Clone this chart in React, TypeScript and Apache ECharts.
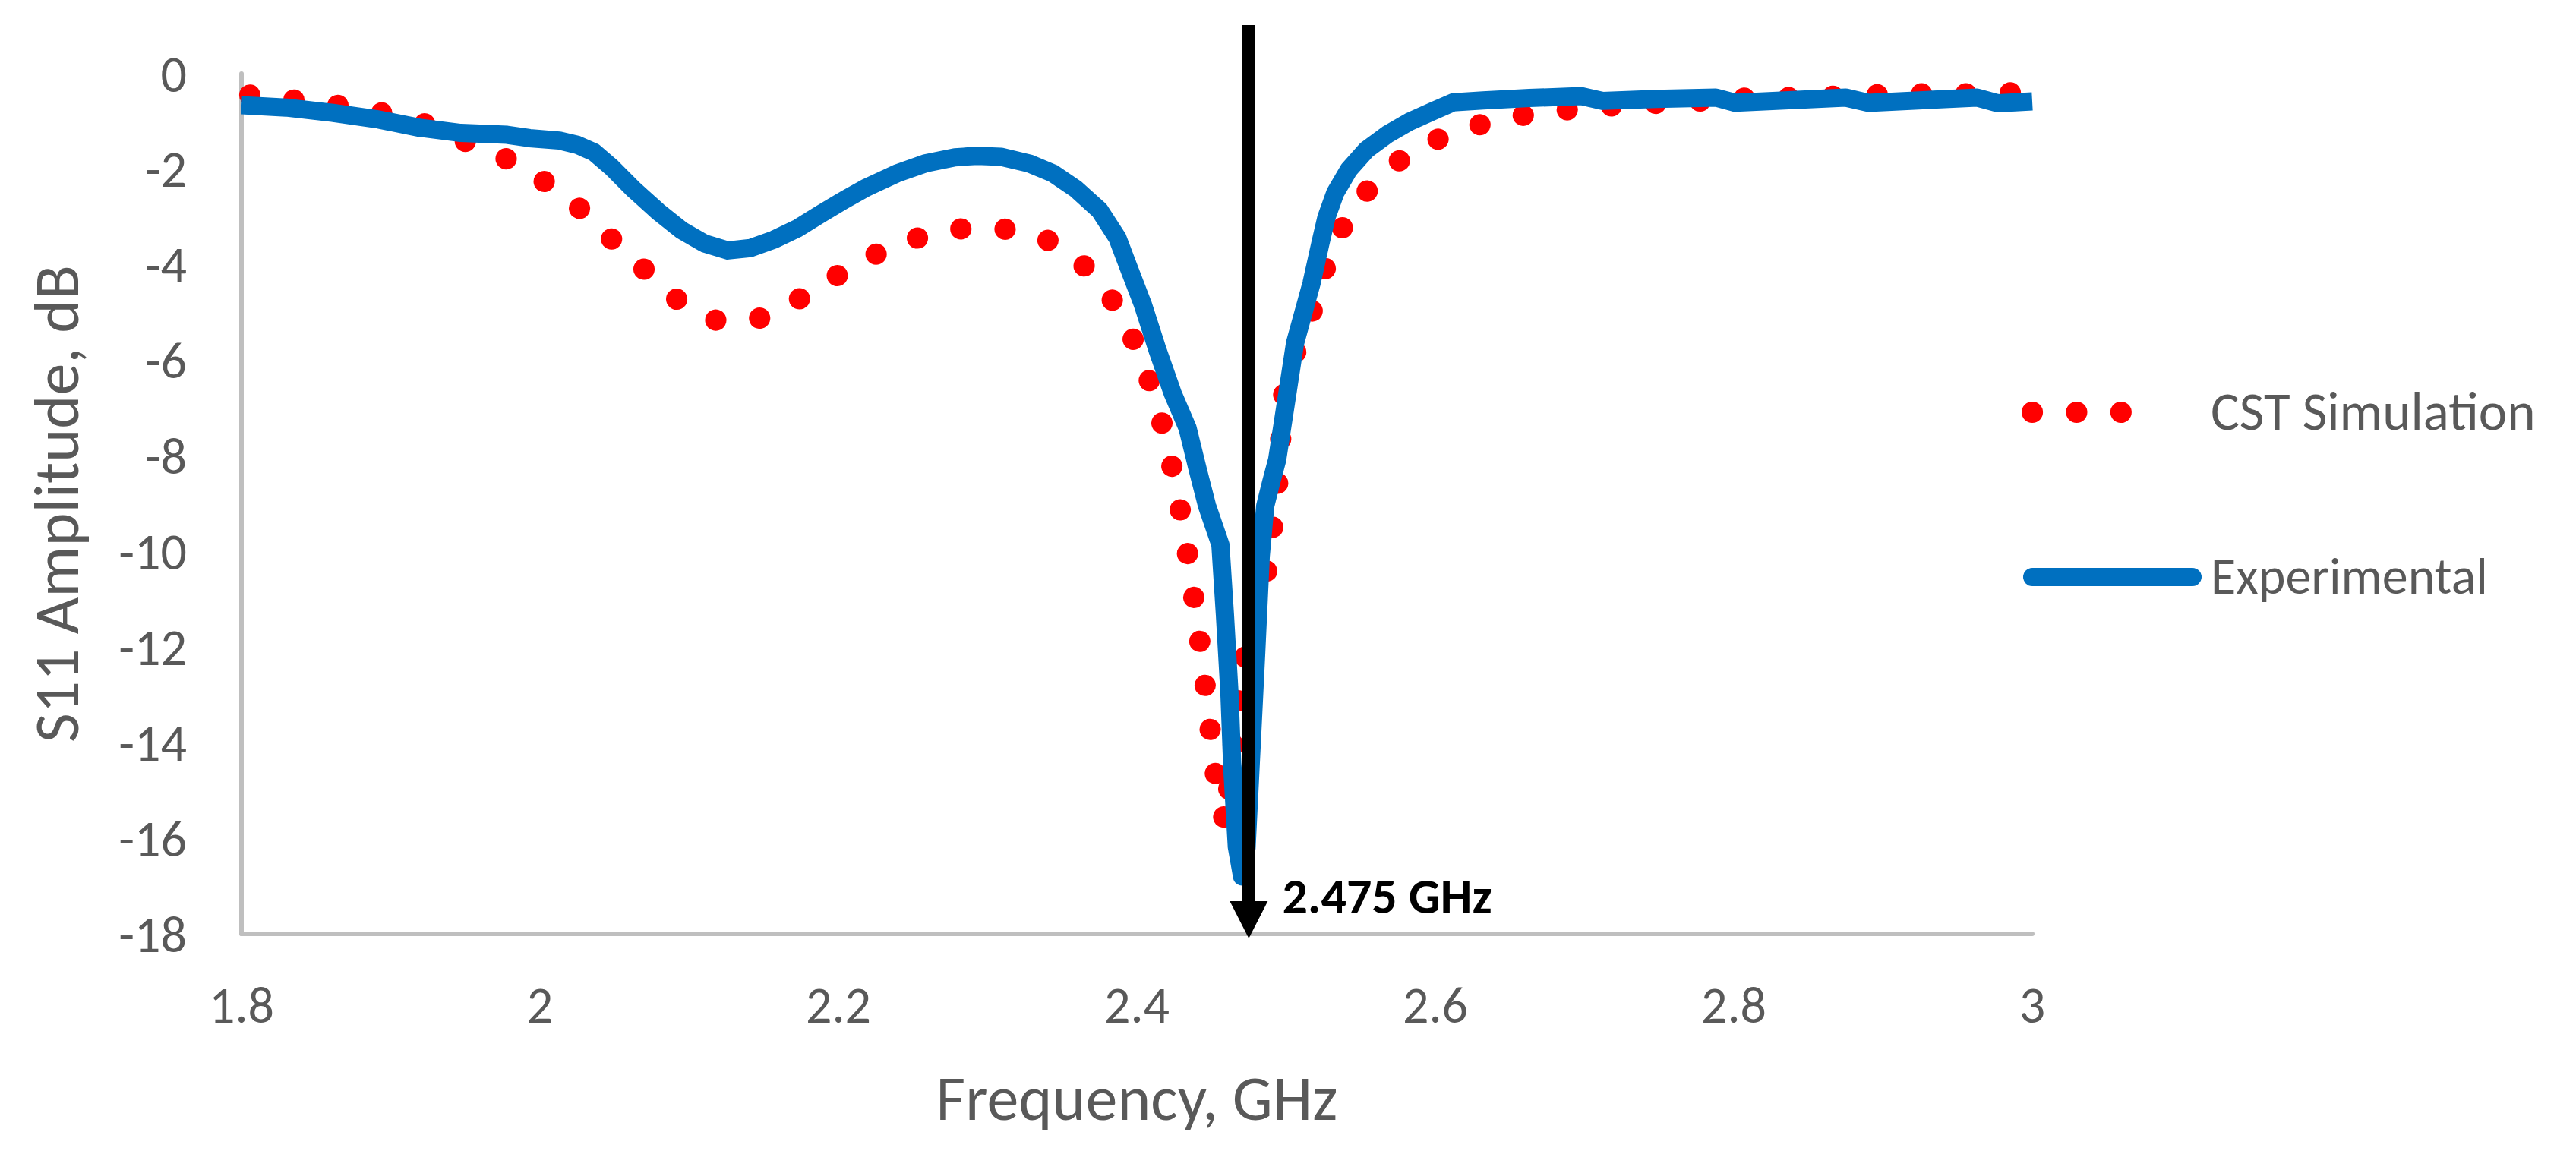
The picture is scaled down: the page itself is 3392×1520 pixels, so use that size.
import React, { useEffect, useRef } from "react";
import * as echarts from "echarts";

// ---- Data ----
const simFreq = [
  1.800, 1.835, 1.864, 1.894, 1.923, 1.951, 1.978, 2.003, 2.027, 2.048,
  2.070, 2.092, 2.118, 2.132, 2.147, 2.174, 2.199, 2.225, 2.253, 2.282,
  2.296, 2.311, 2.340, 2.364, 2.383, 2.397, 2.408, 2.4165, 2.4233, 2.4289,
  2.4338, 2.438, 2.442, 2.4456, 2.449, 2.4524, 2.4578, 2.460, 2.4616, 2.468,
  2.476, 2.488, 2.4914, 2.4947, 2.4965, 2.4985, 2.507, 2.5186, 2.527, 2.5386,
  2.5556, 2.5774, 2.6037, 2.6317, 2.6607, 2.6902, 2.7196, 2.749, 2.779, 2.808,
  2.838, 2.868, 2.898, 2.9275, 2.957, 2.987, 3.000,
];
const simS11 = [
  -0.43, -0.55, -0.66, -0.82, -1.05, -1.43, -1.79, -2.26, -2.83, -3.46,
  -4.10, -4.73, -5.16, -5.20, -5.12, -4.71, -4.23, -3.78, -3.44, -3.25,
  -3.22, -3.25, -3.48, -4.00, -4.71, -5.52, -6.39, -7.27, -8.19, -9.10,
  -10.01, -10.93, -11.84, -12.76, -13.69, -14.61, -15.52, -15.72, -14.96, -13.0,
  -11.6, -10.3, -9.41, -8.47, -7.58, -6.66, -5.77, -4.88, -4.0, -3.16,
  -2.40, -1.78, -1.34, -1.05, -0.86, -0.75, -0.67, -0.62, -0.57, -0.51,
  -0.50, -0.47, -0.44, -0.42, -0.42, -0.40, -0.40,
];

const expFreq = [
  1.800, 1.830, 1.861, 1.892, 1.919, 1.947, 1.978, 1.993, 2.013, 2.025,
  2.036, 2.048, 2.063, 2.079, 2.095, 2.110, 2.126, 2.141, 2.157, 2.173,
  2.188, 2.204, 2.219, 2.239, 2.258, 2.278, 2.293, 2.309, 2.328, 2.344,
  2.359, 2.375, 2.387, 2.395, 2.404, 2.414, 2.424, 2.434, 2.441, 2.447,
  2.456, 2.459, 2.462, 2.464, 2.467, 2.4705, 2.4735, 2.477, 2.480, 2.483,
  2.486, 2.490, 2.494, 2.498, 2.506, 2.517, 2.523, 2.527, 2.533, 2.542,
  2.554, 2.568, 2.583, 2.598, 2.612, 2.632, 2.663, 2.698, 2.712, 2.748,
  2.788, 2.801, 2.875, 2.890, 2.963, 2.977, 3.000,
];
const expS11 = [
  -0.66, -0.71, -0.82, -0.96, -1.13, -1.24, -1.28, -1.35, -1.40, -1.49,
  -1.64, -1.96, -2.43, -2.88, -3.28, -3.55, -3.70, -3.65, -3.47, -3.23,
  -2.94, -2.64, -2.38, -2.09, -1.88, -1.75, -1.72, -1.74, -1.88, -2.09,
  -2.41, -2.86, -3.44, -4.10, -4.83, -5.80, -6.69, -7.42, -8.31, -9.04,
  -9.86, -11.32, -12.94, -14.56, -16.18, -16.8, -16.2, -14.0, -12.1, -10.1,
  -9.05, -8.55, -8.08, -7.27, -5.64, -4.39, -3.55, -3.01, -2.49, -2.01,
  -1.59, -1.27, -1.00, -0.79, -0.60, -0.56, -0.51, -0.47, -0.57, -0.53,
  -0.50, -0.61, -0.50, -0.61, -0.50, -0.62, -0.58,
];

const seriesNames = ["CST Simulation", "Experimental"];
const xMin = 1.8;
const xMax = 3;
const xStep = 0.2;
const yMin = -18;
const yMax = 0;
const yStep = 2;
const xAxisTitle = "Frequency, GHz";
const yAxisTitle = "S11 Amplitude, dB";
const resonanceFreq = 2.475;
const resonanceLabel = "2.475 GHz";

const FONT = "Calibri, Carlito, Lato, sans-serif";
const GREY = "#595959";
const RED = "#FF0000";
const BLUE = "#0070C0";

export default function App() {
  const ref = useRef<HTMLDivElement>(null);

  useEffect(() => {
    if (!ref.current) return;
    const chart = echarts.init(ref.current, null, { renderer: "svg" });

    const simData = simFreq.map((f, i) => [f, simS11[i]]);
    const expData = expFreq.map((f, i) => [f, expS11[i]]);

    chart.setOption({
      animation: false,
      backgroundColor: "#ffffff",
      grid: {
        left: 318,
        right: 716,
        top: 97,
        bottom: 290,
        containLabel: false,
        outerBoundsMode: "none",
      },
      xAxis: {
        type: "value",
        min: xMin,
        max: xMax,
        interval: xStep,
        name: xAxisTitle,
        nameLocation: "middle",
        nameGap: 174,
        nameTextStyle: { fontFamily: FONT, fontSize: 84, color: GREY },
        axisLine: { show: true, onZero: false, lineStyle: { color: "#BFBFBF", width: 6 } },
        axisTick: { show: false },
        splitLine: { show: false },
        axisLabel: {
          margin: 59,
          fontFamily: FONT,
          fontSize: 68,
          color: GREY,
          formatter: (v: number) => String(+v.toFixed(1)),
        },
      },
      yAxis: {
        type: "value",
        min: yMin,
        max: yMax,
        interval: yStep,
        name: yAxisTitle,
        nameLocation: "middle",
        nameGap: 202,
        nameTextStyle: { fontFamily: FONT, fontSize: 84, color: GREY },
        axisLine: { show: true, onZero: false, lineStyle: { color: "#BFBFBF", width: 6 } },
        axisTick: { show: false },
        splitLine: { show: false },
        axisLabel: {
          margin: 72,
          fontFamily: FONT,
          fontSize: 68,
          color: GREY,
        },
      },
      series: [
        {
          name: seriesNames[0],
          type: "line",
          data: simData,
          showSymbol: false,
          symbol: "none",
          smooth: false,
          clip: false,
          lineStyle: {
            color: RED,
            width: 28,
            type: [0.1, 58.3],
            dashOffset: -11,
            cap: "round",
            join: "round",
          },
          z: 2,
        },
        {
          name: seriesNames[1],
          type: "line",
          data: expData,
          showSymbol: false,
          symbol: "none",
          smooth: false,
          lineStyle: {
            color: BLUE,
            width: 24,
            cap: "butt",
            join: "round",
          },
          z: 3,
        },
      ],
    });

    const p = chart.convertToPixel({ xAxisIndex: 0, yAxisIndex: 0 }, [resonanceFreq, yMin]) as number[];
    const ax = p[0];
    const axisY = p[1];

    chart.setOption({
      graphic: [
        // resonance arrow
        {
          type: "line",
          z: 100,
          shape: { x1: ax, y1: 33, x2: ax, y2: axisY - 38 },
          style: { stroke: "#000000", lineWidth: 17 },
        },
        {
          type: "polygon",
          z: 100,
          shape: {
            points: [
              [ax - 25, axisY - 43],
              [ax + 25, axisY - 43],
              [ax, axisY + 6],
            ],
          },
          style: { fill: "#000000" },
        },
        {
          type: "text",
          z: 100,
          x: ax + 44,
          y: axisY - 50,
          style: {
            text: resonanceLabel,
            fill: "#000000",
            font: `bold 66px ${FONT}`,
            align: "left",
            verticalAlign: "middle",
          },
        },
        // legend: CST Simulation (dotted)
        {
          type: "line",
          z: 100,
          shape: { x1: 2676, y1: 543, x2: 2851, y2: 543 },
          style: {
            stroke: RED,
            lineWidth: 28,
            lineDash: [0.1, 58.3],
            lineCap: "round",
          },
        },
        {
          type: "text",
          z: 100,
          x: 2911,
          y: 541,
          style: {
            text: seriesNames[0],
            fill: GREY,
            font: `71px ${FONT}`,
            align: "left",
            verticalAlign: "middle",
          },
        },
        // legend: Experimental (solid)
        {
          type: "line",
          z: 100,
          shape: { x1: 2676, y1: 760, x2: 2887, y2: 760 },
          style: { stroke: BLUE, lineWidth: 24, lineCap: "round" },
        },
        {
          type: "text",
          z: 100,
          x: 2911,
          y: 758,
          style: {
            text: seriesNames[1],
            fill: GREY,
            font: `68px ${FONT}`,
            align: "left",
            verticalAlign: "middle",
          },
        },
      ],
    });

    return () => chart.dispose();
  }, []);

  return (
    <div
      ref={ref}
      style={{ position: "fixed", left: 0, top: 0, width: 3392, height: 1520, background: "#fff" }}
    />
  );
}
